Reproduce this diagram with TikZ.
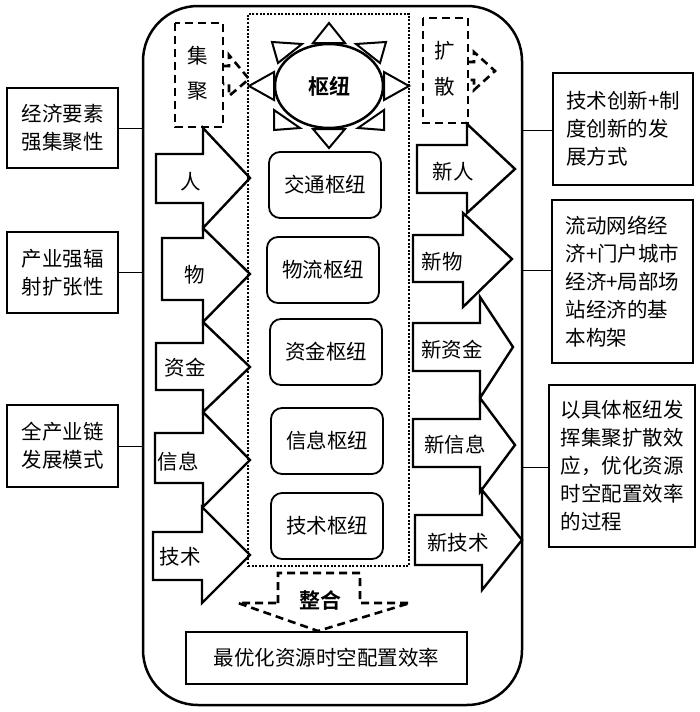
\documentclass[tikz,border=0pt]{standalone}
\usepackage{fontspec}
\setmainfont{Noto Sans CJK SC}[BoldFont={Noto Sans CJK SC Bold}]
\usetikzlibrary{shapes.geometric}
\tikzset{
  txt/.style={font=\fontsize{20.5pt}{28pt}\selectfont, inner sep=0pt},
  boldtxt/.style={font=\fontsize{21pt}{28pt}\selectfont\bfseries, inner sep=0pt},
  hubbox/.style={draw, line width=1.8pt, rounded corners=11pt, minimum width=112pt, minimum height=66pt, txt},
  sidebox/.style={draw, line width=2.2pt, txt, align=left},
  blockarrow/.style={draw, line width=2.4pt, line join=miter},
  dashshape/.style={draw, line width=2.6pt, dash pattern=on 8pt off 5pt},
  tri/.style={draw, line width=2pt, fill=white, line join=miter},
  thin/.style={line width=1pt}
}
\begin{document}
\begin{tikzpicture}[x=1pt,y=-1pt]
\useasboundingbox (0,0) rectangle (700,712);
% outer frame
\node[draw, line width=2.5pt, rounded corners=55pt, minimum width=379pt, minimum height=699pt, inner sep=0pt] (frame) at (332.5,355.5) {};
% dotted inner box
\node[draw, line width=2.7pt, dash pattern=on 2pt off 1.6pt, minimum width=161pt, minimum height=552pt, inner sep=0pt] (core) at (328.5,290) {};

% triangles around hub
\draw[tri] (313,43) -- (345,43) -- (329,23) -- cycle;
\draw[tri] (313,129) -- (345,129) -- (329,148) -- cycle;
\draw[tri] (274,72) -- (274,100) -- (249,86) -- cycle;
\draw[tri] (384,72) -- (384,100) -- (409,86) -- cycle;
\draw[tri] (302,44) -- (278,63) -- (272,42) -- cycle;
\draw[tri] (356,44) -- (380,63) -- (386,42) -- cycle;
\draw[tri] (274,110) -- (300,128) -- (274,130) -- cycle;
\draw[tri] (384,110) -- (358,128) -- (384,130) -- cycle;
\node[draw, ellipse, line width=2.5pt, fill=white, minimum width=108pt, minimum height=84pt, boldtxt] (hub) at (329,86) {枢纽};

% gather / spread dashed
\draw[dashshape] (175,23) rectangle (223,127);
\node[txt] (jiju1) at (198,56) {集};
\node[txt] (jiju2) at (198,91) {聚};
\draw[dashshape] (223,66) -- (229,66) -- (229,55) -- (249,79) -- (229,96) -- (229,84) -- (223,84);
\draw[dashshape] (423,18) rectangle (468,123);
\node[txt] (ks1) at (445,51) {扩};
\node[txt] (ks2) at (445,87) {散};
\draw[dashshape] (468,62) -- (474,62) -- (474,52) -- (495,71) -- (474,90) -- (474,80) -- (468,80);

% hub boxes
\node[hubbox] (h1) at (325,185) {交通枢纽};
\node[hubbox] (h2) at (323,270) {物流枢纽};
\node[hubbox] (h3) at (326,352) {资金枢纽};
\node[hubbox] (h4) at (327,441) {信息枢纽};
\node[hubbox] (h5) at (327,526) {技术枢纽};

% left input arrows
\draw[blockarrow] (156,154) -- (203,154) -- (203,128) -- (250,178) -- (203,228) -- (203,203) -- (156,203) -- cycle;
\draw[blockarrow] (162,238) -- (203,238) -- (203,228) -- (250,274) -- (203,322) -- (203,300) -- (162,300) -- cycle;
\draw[blockarrow] (156,343) -- (203,343) -- (203,322) -- (250,367) -- (203,412) -- (203,390) -- (156,390) -- cycle;
\draw[blockarrow] (155,433) -- (203,433) -- (203,412) -- (250,460) -- (203,507) -- (203,483) -- (155,483) -- cycle;
\draw[blockarrow] (153,532) -- (202,532) -- (202,507) -- (250,555) -- (202,603) -- (202,580) -- (153,580) -- cycle;
\node[txt] (l1) at (191,182) {人};
\node[txt] (l2) at (195,275) {物};
\node[txt] (l3) at (185,368) {资金};
\node[txt] (l4) at (178,462) {信息};
\node[txt] (l5) at (180,557) {技术};

% right output arrows
\draw[blockarrow] (417,145) -- (467,145) -- (467,124) -- (515,169) -- (467,213) -- (467,193) -- (417,193) -- cycle;
\draw[blockarrow] (413,235) -- (463,235) -- (463,213) -- (512,259) -- (463,307) -- (463,282) -- (413,282) -- cycle;
\draw[blockarrow] (413,323) -- (480,323) -- (480,297) -- (513,347) -- (480,398) -- (480,371) -- (413,371) -- cycle;
\draw[blockarrow] (413,419) -- (480,419) -- (480,398) -- (515,445) -- (480,492) -- (480,467) -- (413,467) -- cycle;
\draw[blockarrow] (415,515) -- (482,515) -- (482,490) -- (522,540) -- (482,590) -- (482,565) -- (415,565) -- cycle;
\node[txt] (r1) at (453,172) {新人};
\node[txt] (r2) at (442,262) {新物};
\node[txt] (r3) at (452,350) {新资金};
\node[txt] (r4) at (455,445) {新信息};
\node[txt] (r5) at (458,543) {新技术};

% integration arrow
\draw[dashshape] (278,603) -- (278,573) -- (360,573) -- (360,603) -- (410,603) -- (318,631) -- (238,603) -- cycle;
\node[boldtxt] (zh) at (320,600) {整合};

% bottom box
\node[draw, line width=2.2pt, minimum width=281pt, minimum height=52pt, txt] (opt) at (326.5,658) {最优化资源时空配置效率};

% left side boxes
\node[sidebox, minimum width=111pt, minimum height=80pt] (lb1) at (62.5,128) {经济要素\\强集聚性};
\node[sidebox, minimum width=111pt, minimum height=81pt] (lb2) at (62.5,272.5) {产业强辐\\射扩张性};
\node[sidebox, minimum width=111pt, minimum height=82pt] (lb3) at (62.5,446) {全产业链\\发展模式};
\draw[thin] (lb1.east) -- (lb1.east -| frame.west);
\draw[thin] (lb2.east) -- (lb2.east -| frame.west);
\draw[thin] (lb3.east) -- (lb3.east -| frame.west);

% right side boxes
\node[sidebox, minimum width=140pt, minimum height=112pt] (rb1) at (623,129) {技术创新+制\\度创新的发\\展方式};
\node[sidebox, minimum width=141pt, minimum height=163pt] (rb2) at (622.5,281.5) {流动网络经\\济+门户城市\\经济+局部场\\站经济的基\\本构架};
\node[sidebox, minimum width=146pt, minimum height=162pt] (rb3) at (622,466) {以具体枢纽发\\挥集聚扩散效\\应，优化资源\\时空配置效率\\的过程};
\coordinate (rc1) at (522,130);
\coordinate (rc2) at (522,270);
\coordinate (rc3) at (522,467);
\draw[thin] (rc1) -- (rc1 -| rb1.west);
\draw[thin] (rc2) -- (rc2 -| rb2.west);
\draw[thin] (rc3) -- (rc3 -| rb3.west);
\end{tikzpicture}
\end{document}
